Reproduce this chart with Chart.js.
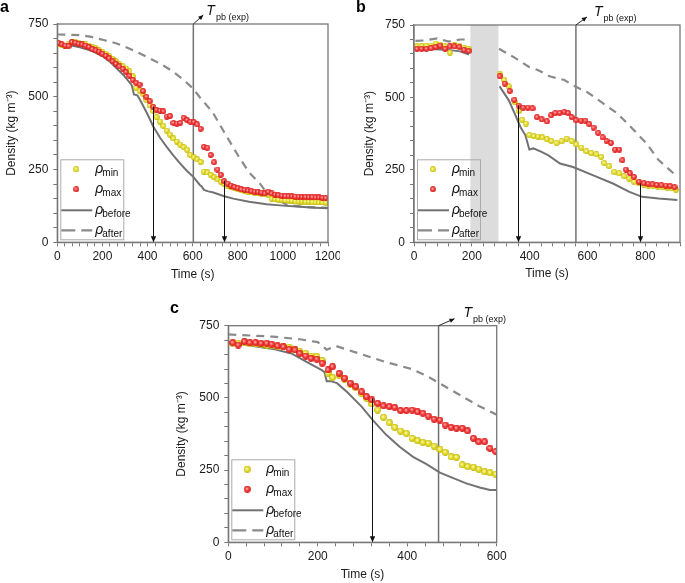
<!DOCTYPE html>
<html>
<head>
<meta charset="utf-8">
<script src="https://cdn.jsdelivr.net/npm/chart.js@4.4.1/dist/chart.umd.min.js"></script>
<style>
  html, body { margin: 0; padding: 0; background: #fff; }
  body { position: relative; width: 685px; height: 583px; overflow: hidden; }
  canvas { position: absolute; }
  #chartA { left: 0; top: 0; }
  #chartB { left: 340px; top: 0; }
  #chartC { left: 170px; top: 290px; }
</style>
</head>
<body>
<canvas id="chartA" width="340" height="285"></canvas>
<canvas id="chartB" width="345" height="285"></canvas>
<canvas id="chartC" width="340" height="293"></canvas>
<script>
// ---- shared axis / legend text ----
const yMajorTicks = [0, 250, 500, 750];
const legendLabels = ["min", "max", "before", "after"];

// ---- panel a ----
const aXMajorTicks = [0, 200, 400, 600, 800, 1000, 1200];
const aDotTime = [5, 20, 35, 50, 65, 80, 95, 110, 125, 140, 155, 170, 185, 200, 215, 230, 245, 260, 275, 290,
  305, 320, 335, 350, 365, 380, 395, 410, 425, 440, 455, 470, 485, 500, 515, 530, 545, 560, 575, 590,
  605, 620, 635, 650, 665, 680, 695, 710, 725, 740, 755, 770, 785, 800, 815, 830, 845, 860, 875, 890,
  905, 920, 935, 950, 965, 980, 995, 1010, 1025, 1040, 1055, 1070, 1085, 1100, 1115, 1130, 1145, 1160, 1175, 1190];
const aMinValues = [682, 678, 676, 680, 688, 688, 684, 681, 680, 675, 670, 666, 660, 655, 648, 640, 630, 622, 612, 604,
  597, 587, 570, 530, 520, 510, 490, 470, 452, 430, 415, 400, 384, 370, 357, 346, 336, 327, 318, 300,
  292, 285, 276, 243, 240, 232, 224, 216, 208, 200, 195, 190, 186, 182, 179, 176, 174, 172, 170, 168,
  166, 165, 164, 150, 148, 146, 145, 144, 143, 142, 141, 140, 140, 139, 139, 138, 138, 137, 137, 136];
const aMaxValues = [685, 680, 676, 674, 688, 686, 682, 680, 676, 671, 664, 659, 655, 648, 641, 632, 622, 613, 604, 596,
  585, 572, 558, 548, 542, 520, 500, 485, 466, 455, 452, 450, 432, 434, 410, 408, 410, 428, 420, 414,
  413, 405, 390, 328, 325, 300, 275, 250, 232, 210, 202, 195, 190, 186, 182, 180, 178, 176, 174, 173,
  171, 168, 174, 168, 164, 162, 160, 159, 158, 158, 157, 157, 156, 156, 155, 155, 154, 154, 153, 152];
const aBeforeTime = [0, 50, 100, 145, 200, 234, 293, 330, 340, 355, 367, 400, 426, 455, 485, 515, 544, 575, 603, 632,
  640, 650, 670, 692, 740, 780, 850, 928, 1000, 1076, 1140, 1200];
const aBeforeValues = [683, 678, 670, 660, 640, 620, 575, 540, 508, 505, 489, 440, 397, 360, 328, 298, 271, 245, 225, 197,
  192, 180, 175, 171, 158, 150, 139, 131, 126, 122, 119, 117];
const aAfterTime = [0, 100, 150, 210, 260, 300, 350, 410, 460, 510, 560, 600, 630, 690, 740, 800, 850, 900, 930, 970, 1020, 1100, 1200];
const aAfterValues = [714, 712, 706, 694, 684, 672, 655, 632, 612, 588, 558, 530, 500, 445, 378, 300, 240, 200, 168, 148, 128, 121, 118];
const aArrowTime = [425, 740];
const aArrowTop = [466, 212];
const aTpb = 603;

// ---- panel b ----
const bXMajorTicks = [0, 200, 400, 600, 800];
const bDotTimeEarly = [10, 26, 43, 59, 75, 91, 108, 124, 140, 157, 173, 189];
const bMinEarly = [676, 677, 678, 679, 686, 682, 676, 655, 680, 679, 672, 668];
const bMaxEarly = [668, 668, 668, 670, 674, 679, 668, 676, 676, 674, 664, 660];
const bMinLateTime = [297, 312, 327, 349, 363, 374, 387, 399, 414, 429, 444, 460, 475, 493, 511, 528, 545, 561, 579, 596,
  613, 631, 647, 658, 675, 693, 710, 727, 744, 761, 778, 795, 811, 827, 843, 860, 876, 892, 906];
const bMinLate = [580, 561, 538, 484, 453, 423, 410, 370, 367, 365, 362, 356, 350, 343, 349, 358, 350, 338, 327, 315,
  308, 304, 295, 274, 263, 243, 238, 228, 220, 209, 203, 199, 196, 194, 192, 190, 188, 186, 182];
const bMaxLateTime = [297, 314, 331, 347, 362, 378, 394, 410, 425, 442, 460, 474, 489, 504, 520, 533, 545, 561, 578, 593,
  606, 621, 637, 652, 666, 681, 695, 710, 721, 733, 747, 761, 778, 795, 810, 825, 840, 856, 871, 886, 901];
const bMaxLate = [573, 548, 522, 492, 472, 465, 465, 462, 432, 424, 417, 438, 446, 447, 450, 446, 432, 421, 420, 420,
  408, 396, 378, 362, 350, 343, 320, 320, 283, 251, 238, 226, 209, 204, 202, 200, 198, 197, 196, 194, 190];
const bBeforeEarlyTime = [5, 60, 110, 160, 190];
const bBeforeEarly = [666, 667, 665, 659, 648];
const bBeforeLateTime = [296, 328, 351, 368, 385, 399, 413, 441, 465, 505, 550, 618, 688, 745, 789, 846, 911];
const bBeforeLate = [538, 490, 438, 398, 370, 320, 324, 312, 300, 272, 260, 232, 203, 174, 157, 151, 146];
const bAfterEarlyTime = [5, 40, 80, 120, 160, 192];
const bAfterEarly = [695, 697, 704, 693, 700, 700];
const bAfterLateTime = [294, 347, 398, 428, 469, 520, 550, 601, 652, 703, 754, 805, 845, 911];
const bAfterLate = [668, 638, 605, 595, 573, 560, 542, 517, 481, 445, 394, 340, 285, 226];
const bArrowTime = [360, 782];
const bArrowTop = [473, 203];
const bTpb = 560;
const bPauseWindow = [195, 292];

// ---- panel c ----
const cXMajorTicks = [0, 200, 400, 600];
const cDotTime = [10, 22, 36, 48, 61, 73, 86, 97, 110, 123, 136, 149, 160, 173, 185, 198, 210, 223, 233, 248,
  260, 273, 285, 298, 309, 321, 334, 347, 360, 372, 385, 398, 411, 423, 435, 447, 460, 473, 485, 498,
  510, 523, 535, 548, 560, 573, 585, 598];
const cMinValues = [689, 689, 691, 687, 687, 685, 683, 683, 678, 677, 675, 668, 660, 654, 645, 643, 629, 585, 571, 578,
  565, 548, 535, 515, 499, 479, 458, 433, 414, 398, 385, 377, 360, 352, 346, 343, 333, 322, 312, 296,
  294, 268, 262, 260, 253, 244, 241, 236];
const cMaxValues = [691, 683, 695, 691, 691, 689, 689, 686, 680, 677, 668, 666, 654, 645, 637, 634, 620, 597, 608, 585,
  568, 551, 539, 521, 504, 493, 481, 472, 470, 467, 456, 456, 458, 452, 447, 437, 426, 423, 406, 398,
  395, 395, 386, 360, 348, 348, 325, 314];
const cBeforeTime = [10, 36, 66, 104, 141, 178, 208, 215, 220, 229, 243, 265, 298, 323, 353, 383, 413, 443, 473, 503, 532, 562, 585, 600];
const cBeforeValues = [688, 685, 677, 668, 654, 622, 597, 590, 558, 558, 551, 521, 470, 423, 372, 331, 296, 271, 241, 222, 204, 190, 181, 181];
const cAfterTime = [0, 100, 160, 200, 220, 240, 290, 350, 410, 445, 475, 520, 560, 600];
const cAfterValues = [720, 712, 703, 693, 667, 680, 655, 625, 600, 575, 548, 508, 472, 442];
const cArrowTime = [322];
const cArrowTop = [499];
const cTpb = 470;

const FONT = '"Liberation Sans", Arial, sans-serif';

function pairs(times, values) {
  return times.map((t, i) => ({ x: t, y: values[i] }));
}

function makeBall(size, light, mid, dark) {
  const c = document.createElement("canvas");
  c.width = size;
  c.height = size;
  const g = c.getContext("2d");
  const r = size / 2;
  const grad = g.createRadialGradient(r * 0.8, r * 0.75, 0, r, r, r);
  grad.addColorStop(0, light);
  grad.addColorStop(0.5, mid);
  grad.addColorStop(1, dark);
  g.fillStyle = grad;
  g.beginPath();
  g.arc(r, r, r - 0.1, 0, Math.PI * 2);
  g.fill();
  return c;
}

function drawArrow(ctx, x1, y1, x2, y2, head) {
  ctx.beginPath();
  ctx.moveTo(x1, y1);
  ctx.lineTo(x2, y2);
  ctx.stroke();
  const ang = Math.atan2(y2 - y1, x2 - x1);
  const w = head * 0.45;
  ctx.beginPath();
  ctx.moveTo(x2, y2);
  ctx.lineTo(x2 - head * Math.cos(ang) + w * Math.sin(ang), y2 - head * Math.sin(ang) - w * Math.cos(ang));
  ctx.lineTo(x2 - head * Math.cos(ang) - w * Math.sin(ang), y2 - head * Math.sin(ang) + w * Math.cos(ang));
  ctx.closePath();
  ctx.fill();
}

function makeDecor(p, balls) {
  return {
    id: "panelDecor",
    beforeDatasetsDraw(chart) {
      const { ctx, chartArea: area, scales } = chart;
      ctx.save();
      if (p.pause) {
        const x0 = scales.x.getPixelForValue(p.pause[0]);
        const x1 = scales.x.getPixelForValue(p.pause[1]);
        ctx.fillStyle = "#dcdcdc";
        ctx.fillRect(x0, area.top, x1 - x0, area.bottom - area.top);
      }
      const xt = scales.x.getPixelForValue(p.tpb);
      ctx.strokeStyle = "#727272";
      ctx.lineWidth = 1.5;
      ctx.beginPath();
      ctx.moveTo(xt, area.top);
      ctx.lineTo(xt, area.bottom);
      ctx.stroke();
      ctx.restore();
    },
    afterDatasetsDraw(chart) {
      const { ctx, chartArea: area, scales } = chart;
      ctx.save();

      // transition arrows
      ctx.strokeStyle = "#111";
      ctx.fillStyle = "#111";
      ctx.lineWidth = 1;
      p.arrowTime.forEach((t, i) => {
        const x = Math.round(scales.x.getPixelForValue(t)) + 0.5;
        drawArrow(ctx, x, scales.y.getPixelForValue(p.arrowTop[i]), x, area.bottom, 6);
      });

      // frame
      ctx.strokeStyle = "#777";
      ctx.lineWidth = 1.3;
      ctx.strokeRect(area.left, area.top, area.right - area.left, area.bottom - area.top);

      // T_pb(exp) label
      const xt = scales.x.getPixelForValue(p.tpb);
      ctx.strokeStyle = "#111";
      ctx.lineWidth = 0.9;
      drawArrow(ctx, xt, area.top, xt + p.tpbArrow[0], area.top + p.tpbArrow[1], 5);
      ctx.fillStyle = "#111";
      ctx.textBaseline = "alphabetic";
      ctx.font = "italic 14px " + FONT;
      const tx = xt + p.tpbLabelDx;
      ctx.fillText("T", tx, area.top - 9);
      const tw = ctx.measureText("T").width;
      ctx.font = "9px " + FONT;
      ctx.fillText("pb (exp)", tx + tw + 1, area.top - 4);

      // legend box
      const lx = area.left + 3;
      const ly = area.bottom - 3 - 80;
      ctx.strokeStyle = "#aaa";
      ctx.lineWidth = 1;
      ctx.strokeRect(lx + 0.5, ly + 0.5, 63, 80);
      const rows = [10, 30, 51, 71];
      ctx.drawImage(balls[0], lx + 16 - balls[0].width / 2, ly + rows[0] - balls[0].height / 2);
      ctx.drawImage(balls[1], lx + 16 - balls[1].width / 2, ly + rows[1] - balls[1].height / 2);
      ctx.lineWidth = 2;
      ctx.strokeStyle = "#727272";
      ctx.beginPath();
      ctx.moveTo(lx + 1, ly + rows[2]);
      ctx.lineTo(lx + 32, ly + rows[2]);
      ctx.stroke();
      ctx.strokeStyle = "#8a8a8a";
      ctx.lineWidth = 2.2;
      ctx.setLineDash([14, 6]);
      ctx.beginPath();
      ctx.moveTo(lx + 1, ly + rows[3]);
      ctx.lineTo(lx + 32, ly + rows[3]);
      ctx.stroke();
      ctx.setLineDash([]);
      ctx.fillStyle = "#111";
      legendLabels.forEach((label, i) => {
        ctx.font = "italic 14px " + FONT;
        ctx.fillText("\u03C1", lx + 35, ly + rows[i] + 3.5);
        ctx.font = "10px " + FONT;
        ctx.fillText(label, lx + 42, ly + rows[i] + 7);
      });

      ctx.restore();
    },
    afterDraw(chart) {
      const { ctx } = chart;
      ctx.save();
      ctx.fillStyle = "#000";
      ctx.font = "bold 16px " + FONT;
      ctx.textBaseline = "alphabetic";
      ctx.fillText(p.letter, p.letterPos[0], p.letterPos[1]);
      ctx.restore();
    },
  };
}

function createPanel(p) {
  const canvas = document.getElementById(p.canvasId);
  if (!canvas) {
    return;
  }
  const balls = [
    makeBall(p.ball, "#fdfbd0", "#e9e236", "#bfb400"),
    makeBall(p.ball, "#ffd0d0", "#f4403f", "#d41515"),
  ];
  const gridOpts = { drawOnChartArea: false, drawTicks: true, tickLength: 4, color: "#777", lineWidth: 1 };
  const borderOpts = { display: true, color: "#777", width: 1.3 };

  new Chart(canvas, {
    type: "scatter",
    data: {
      datasets: [
        { label: "min", data: p.min, pointStyle: balls[0], pointRadius: 3, order: 1 },
        { label: "max", data: p.max, pointStyle: balls[1], pointRadius: 3, order: 0 },
        {
          label: "before", data: p.before, showLine: true, spanGaps: false, pointRadius: 0,
          borderColor: "#727272", borderWidth: 2, order: 2,
        },
        {
          label: "after", data: p.after, showLine: true, spanGaps: false, pointRadius: 0,
          borderColor: "#8a8a8a", borderWidth: 2.2, borderDash: [8, 6], order: 3,
        },
      ],
    },
    options: {
      responsive: false,
      animation: false,
      events: [],
      layout: { padding: p.pad },
      scales: {
        x: {
          type: "linear",
          min: 0,
          max: p.xMax,
          afterBuildTicks(axis) {
            const ticks = [];
            for (let i = 0; (i * p.xMajorStep) / p.xMinorPerMajor <= p.xMax + 1e-6; i++) {
              ticks.push({ value: (i * p.xMajorStep) / p.xMinorPerMajor });
            }
            axis.ticks = ticks;
          },
          ticks: {
            autoSkip: false,
            maxRotation: 0,
            padding: 3,
            color: "#1a1a1a",
            font: { size: 12 },
            callback(value) {
              return p.xMajor.includes(value) ? String(value) : "";
            },
          },
          grid: gridOpts,
          border: borderOpts,
          title: { display: true, text: "Time (s)", color: "#1a1a1a", font: { size: 12 }, padding: { top: 0, bottom: 0 } },
          afterFit(axis) {
            axis.height = p.xAxisHeight;
            axis.paddingLeft = 0;
            axis.paddingRight = 0;
          },
        },
        y: {
          type: "linear",
          min: 0,
          max: 750,
          afterBuildTicks(axis) {
            const ticks = [];
            for (let v = 0; v <= 750; v += 50) {
              ticks.push({ value: v });
            }
            axis.ticks = ticks;
          },
          ticks: {
            autoSkip: false,
            padding: 5,
            color: "#1a1a1a",
            font: { size: 12 },
            callback(value) {
              return yMajorTicks.includes(value) ? String(value) : "";
            },
          },
          grid: gridOpts,
          border: borderOpts,
          title: {
            display: true,
            text: "Density (kg m\u207B\u00B3)",
            color: "#1a1a1a",
            font: { size: 12 },
            padding: { top: 0, bottom: 0 },
          },
          afterFit(axis) {
            axis.width = p.yAxisWidth;
            axis.paddingTop = 0;
            axis.paddingBottom = 0;
          },
        },
      },
      plugins: {
        legend: { display: false },
        tooltip: { enabled: false },
      },
    },
    plugins: [makeDecor(p, balls)],
  });
}

function initCharts() {
  if (typeof Chart === "undefined") {
    return;
  }
  Chart.defaults.font.family = FONT;
  Chart.defaults.font.size = 12;
  Chart.defaults.color = "#1a1a1a";

  createPanel({
    canvasId: "chartA",
    letter: "a",
    letterPos: [0, 12],
    xMax: 1200,
    xMajor: aXMajorTicks,
    xMajorStep: 200,
    xMinorPerMajor: 6,
    pad: { left: 4.5, top: 24, right: 12, bottom: 2.8 },
    yAxisWidth: 52.8,
    xAxisHeight: 39.9,
    ball: 6,
    min: pairs(aDotTime, aMinValues),
    max: pairs(aDotTime, aMaxValues),
    before: pairs(aBeforeTime, aBeforeValues),
    after: pairs(aAfterTime, aAfterValues),
    arrowTime: aArrowTime,
    arrowTop: aArrowTop,
    tpb: aTpb,
    tpbArrow: [10, -9],
    tpbLabelDx: 13,
  });

  createPanel({
    canvasId: "chartB",
    letter: "b",
    letterPos: [16, 12],
    xMax: 920,
    xMajor: bXMajorTicks,
    xMajorStep: 200,
    xMinorPerMajor: 5,
    pad: { left: 22.8, top: 25, right: 1.7, bottom: 4.5 },
    yAxisWidth: 51.2,
    xAxisHeight: 38.2,
    ball: 6,
    min: pairs(bDotTimeEarly, bMinEarly).concat(pairs(bMinLateTime, bMinLate)),
    max: pairs(bDotTimeEarly, bMaxEarly).concat(pairs(bMaxLateTime, bMaxLate)),
    before: pairs(bBeforeEarlyTime, bBeforeEarly).concat([{ x: 240, y: null }], pairs(bBeforeLateTime, bBeforeLate)),
    after: pairs(bAfterEarlyTime, bAfterEarly).concat([{ x: 240, y: null }], pairs(bAfterLateTime, bAfterLate)),
    arrowTime: bArrowTime,
    arrowTop: bArrowTop,
    tpb: bTpb,
    pause: bPauseWindow,
    tpbArrow: [11, -8],
    tpbLabelDx: 18,
  });

  createPanel({
    canvasId: "chartC",
    letter: "c",
    letterPos: [0, 23],
    xMax: 600,
    xMajor: cXMajorTicks,
    xMajorStep: 200,
    xMinorPerMajor: 5,
    pad: { left: 4.5, top: 35.7, right: 13.3, bottom: 0.8 },
    yAxisWidth: 53.8,
    xAxisHeight: 39.9,
    ball: 7,
    min: pairs(cDotTime, cMinValues),
    max: pairs(cDotTime, cMaxValues),
    before: pairs(cBeforeTime, cBeforeValues),
    after: pairs(cAfterTime, cAfterValues),
    arrowTime: cArrowTime,
    arrowTop: cArrowTop,
    tpb: cTpb,
    tpbArrow: [16, -7],
    tpbLabelDx: 25,
  });
}

window.addEventListener("DOMContentLoaded", initCharts);
</script>
</body>
</html>
